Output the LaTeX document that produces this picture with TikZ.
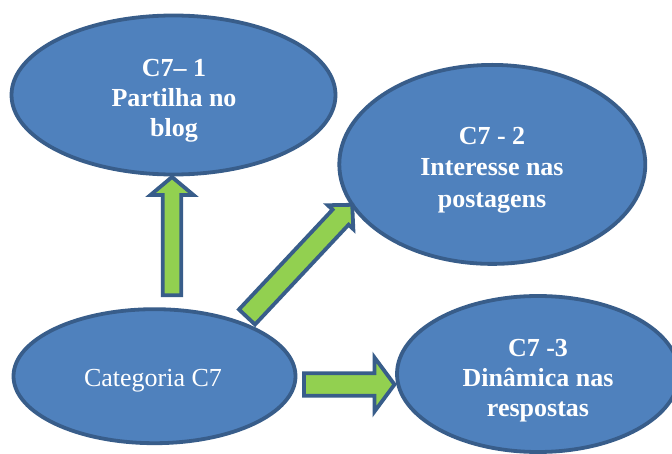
\documentclass[tikz,border=0pt]{standalone}
\usepackage{fontspec}
\setmainfont{Liberation Serif}
\usetikzlibrary{shapes.geometric,calc}

\definecolor{bubblefill}{HTML}{4F81BD}
\definecolor{bubbleline}{HTML}{385D8A}
\definecolor{arrowfill}{HTML}{92D050}

\tikzset{
  bubble/.style={ellipse, draw=bubbleline, fill=bubblefill, line width=3.8pt, inner sep=0pt},
  boldtext/.style={text=white, align=center, inner sep=0pt,
    font=\fontsize{26}{30}\selectfont\bfseries},
  plaintext/.style={text=white, align=center, inner sep=0pt,
    font=\fontsize{26}{30}\selectfont},
  arrowbox/.style={draw=bubbleline, fill=arrowfill, line width=3.8pt, line join=miter},
}

% block arrow from coordinate #1 to coordinate #2:
% #3 half shaft width, #4 half head width, #5 head length
\newcommand\blockarrow[5]{%
  \coordinate (#1-#2-base) at ($(#2)!#5!(#1)$);
  \draw[arrowbox]
    ($(#1)!#3!90:(#2)$) -- ($(#1-#2-base)!#3!90:(#2)$) --
    ($(#1-#2-base)!#4!90:(#2)$) -- (#2) --
    ($(#1-#2-base)!#4!-90:(#2)$) -- ($(#1-#2-base)!#3!-90:(#2)$) --
    ($(#1)!#3!-90:(#2)$) -- cycle;
}

\begin{document}
\begin{tikzpicture}[x=1pt,y=-1pt]
  \clip (0,0) rectangle (672,454);
  \fill[white] (0,0) rectangle (672,454);

  % categories
  \node[bubble, minimum width=324pt, minimum height=159pt] (c1) at (173.5,95) {};
  \node[bubble, minimum width=306pt, minimum height=199pt] (c2) at (492.3,164.4) {};
  \node[bubble, minimum width=282pt, minimum height=134pt] (c7) at (154.5,376.2) {};
  \node[bubble, minimum width=282pt, minimum height=156pt] (c3) at (538,374) {};

  \node[boldtext] (c1-text) at (174,101) {C7– 1\\Partilha no\\blog};
  \node[boldtext, font=\fontsize{26}{31.5}\selectfont\bfseries]
    (c2-text) at (492,170) {C7 - 2\\Interesse nas\\postagens};
  \node[plaintext] (c7-text) at (153,381) {Categoria C7};
  \node[boldtext] (c3-text) at (538,381) {C7 -3\\Dinâmica nas\\respostas};

  % arrow end points
  \coordinate (up-tail) at (172,295.25);
  \coordinate (up-tip) at (172,177);
  \coordinate (diag-tail) at (247,317);
  \coordinate (diag-tip) at (352.2,204.8);
  \coordinate (right-tail) at (304,384.5);
  \coordinate (right-tip) at (394.5,384.5);

  \blockarrow{up-tail}{up-tip}{9.25pt}{21.5pt}{18pt}
  \blockarrow{diag-tail}{diag-tip}{11pt}{17.5pt}{17pt}
  \blockarrow{right-tail}{right-tip}{11.25pt}{27pt}{20pt}
\end{tikzpicture}
\end{document}
